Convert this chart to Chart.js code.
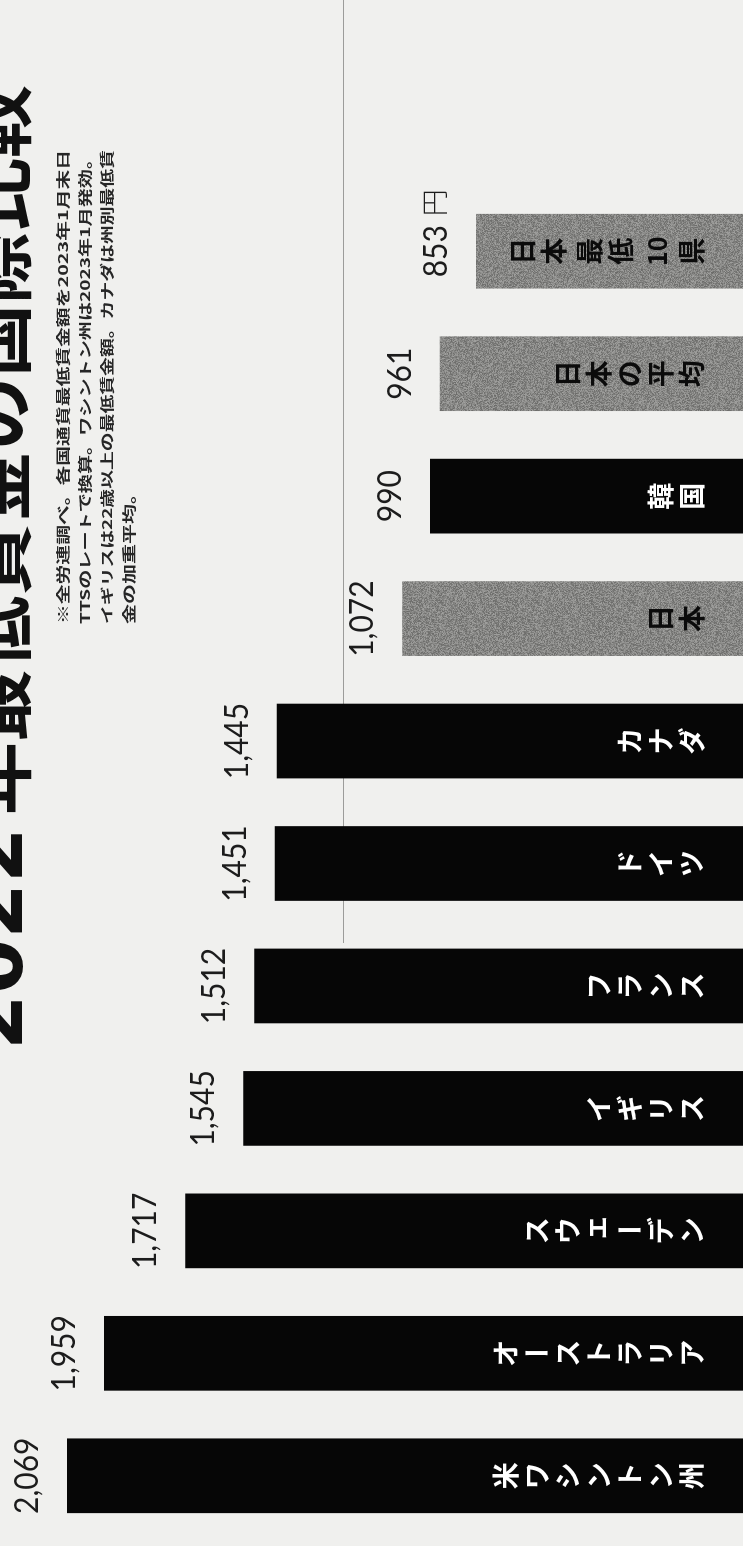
<!DOCTYPE html>
<html lang="ja">
<head>
<meta charset="utf-8">
<title>2022年最低賃金の国際比較</title>
<script src="https://cdn.jsdelivr.net/npm/chart.js@4"></script>
<style>
  html, body { margin: 0; padding: 0; width: 743px; height: 1546px; overflow: hidden; background: #f0f0ee; }
  /* the chart is laid out landscape and turned a quarter turn to stand in the tall page */
  #page {
    position: absolute; left: 0; top: 0;
    width: 1546px; height: 743px; overflow: hidden;
    transform-origin: 0 0;
    transform: translate(0, 1546px) rotate(-90deg);
    background: #f0f0ee;
  }
  #wrap { position: absolute; left: 0; top: 0; width: 1546px; height: 763px; }
</style>
</head>
<body>
<div id="page"><div id="wrap"><canvas id="chart"></canvas></div></div>
<script>
// ---- data ----
const categories = ['米ワシントン州', 'オーストラリア', 'スウェーデン', 'イギリス', 'フランス', 'ドイツ', 'カナダ', '日本', '韓国', '日本の平均', '日本 最低 10 県'];
const wages = [2069, 1959, 1717, 1545, 1512, 1451, 1445, 1072, 990, 961, 853];
const japanCategories = ['日本', '日本の平均', '日本 最低 10 県'];
const unitLabel = '円';
const titleYear = '2022';
const titleRest = '年最低賃金の国際比較';
const noteLines = [
  '※全労連調べ。各国通貨最低賃金額を2023年1月末日',
  'TTSのレートで換算。ワシントン州は2023年1月発効。',
  'イギリスは22歳以上の最低賃金額。カナダは州別最低賃',
  '金の加重平均。'
];

// ---- styles ----
const PAPER = '#f0f0ee';
const BLACK_BAR = '#060606';

// printed-screen grey: a small tile with a fixed hashed speckle
function screenTile() {
  const c = document.createElement('canvas');
  c.width = 96; c.height = 96;
  const g = c.getContext('2d');
  const img = g.createImageData(96, 96);
  for (let yy = 0; yy < 96; yy++) {
    for (let xx = 0; xx < 96; xx++) {
      let h = (xx * 374761393 + yy * 668265263) >>> 0;
      h = Math.imul(h ^ (h >>> 13), 1274126177) >>> 0;
      const r = ((h ^ (h >>> 16)) & 255) / 255;
      const v = Math.round(134 + (r - 0.5) * 54);
      const p = (yy * 96 + xx) * 4;
      img.data[p] = v; img.data[p + 1] = v; img.data[p + 2] = v - 2; img.data[p + 3] = 255;
    }
  }
  g.putImageData(img, 0, 0);
  return g.createPattern(c, 'repeat');
}

const SMALL_KANA = 'ァィゥェォッャュョヮぁぃぅぇぉっゃゅょ';

// split a name into vertical-writing units: single characters, digit runs, gaps
function verticalUnits(text) {
  const units = [];
  let i = 0;
  while (i < text.length) {
    const ch = text[i];
    if (ch === ' ') { units.push({ type: 'gap' }); i++; continue; }
    if (/[0-9]/.test(ch)) {
      let j = i;
      while (j < text.length && /[0-9]/.test(text[j])) j++;
      units.push({ type: 'digits', text: text.slice(i, j) });
      i = j; continue;
    }
    units.push({ type: 'char', text: ch });
    i++;
  }
  return units;
}

const paperPlugin = {
  id: 'paper',
  beforeDraw(chart) {
    const ctx = chart.ctx;
    ctx.save();
    ctx.fillStyle = PAPER;
    ctx.fillRect(0, 0, chart.width, chart.height);
    // column rule
    ctx.strokeStyle = '#9c9c9a';
    ctx.lineWidth = 1.2;
    ctx.beginPath();
    ctx.moveTo(603, 343.5);
    ctx.lineTo(chart.width, 343.5);
    ctx.stroke();

    // headline
    ctx.fillStyle = '#111111';
    ctx.textBaseline = 'alphabetic';
    ctx.textAlign = 'left';
    ctx.font = '700 80px "DejaVu Sans"';
    ctx.fillText(titleYear, 496, 22);
    ctx.font = '700 73px "Noto Sans CJK JP"';
    ctx.fillText(titleRest, 731, 24);

    // source note, set flat
    ctx.fillStyle = '#262626';
    ctx.font = '700 20px "Noto Sans CJK JP"';
    ctx.textBaseline = 'middle';
    noteLines.forEach((line, k) => {
      const w = ctx.measureText(line).width;
      const sx = k < noteLines.length - 1 ? 474 / w : 1;
      ctx.save();
      ctx.translate(922, 63 + k * 22);
      ctx.scale(sx, 0.66);
      ctx.fillText(line, 0, 0);
      ctx.restore();
    });
    ctx.restore();
  }
};

const labelPlugin = {
  id: 'barLabels',
  afterDatasetsDraw(chart) {
    const ctx = chart.ctx;
    const meta = chart.getDatasetMeta(0);
    ctx.save();
    meta.data.forEach((bar, i) => {
      const { x, y } = bar.getProps(['x', 'y'], true);
      const onGrey = japanCategories.includes(categories[i]);
      // value above the bar
      const txt = wages[i].toLocaleString('en-US');
      ctx.fillStyle = '#1c1c1c';
      ctx.font = '400 30px Lato';
      ctx.textAlign = 'center';
      ctx.textBaseline = 'alphabetic';
      ctx.save();
      ctx.translate(x, y - 29);
      ctx.scale(1, 1.12);
      ctx.fillText(txt, 0, 0);
      ctx.restore();
      if (i === wages.length - 1) {
        const w = ctx.measureText(txt).width;
        ctx.font = '300 27px "Noto Sans CJK JP"';
        ctx.textAlign = 'left';
        ctx.fillText(unitLabel, x + w / 2 + 9, y - 31);
      }

      // name, written vertically inside the bar
      const units = verticalUnits(categories[i]);
      const PITCH = 31, GAP = 5, DIG = 30;
      const lens = units.map(u => u.type === 'gap' ? GAP : (u.type === 'digits' ? DIG : PITCH));
      const total = lens.reduce((a, b) => a + b, 0);
      let pos = 707 - total;
      ctx.fillStyle = onGrey ? '#0b0b0b' : '#ffffff';
      ctx.textAlign = 'center';
      ctx.textBaseline = 'middle';
      units.forEach((u, k) => {
        const cy = pos + lens[k] / 2;
        if (u.type === 'char') {
          ctx.font = '700 27px "Noto Sans CJK JP"';
          if (u.text === 'ー') {
            ctx.save();
            ctx.translate(x, cy);
            ctx.rotate(Math.PI / 2);
            ctx.fillText(u.text, 0, 0);
            ctx.restore();
          } else if (SMALL_KANA.includes(u.text)) {
            ctx.fillText(u.text, x + 3, cy - 4);
          } else {
            ctx.fillText(u.text, x, cy);
          }
        } else if (u.type === 'digits') {
          ctx.font = '700 25px "Noto Sans CJK JP"';
          ctx.fillText(u.text, x, cy + 1);
        }
        pos += lens[k];
      });
    });
    ctx.restore();
  }
};

function draw() {
  const grey = screenTile();
  const barColors = categories.map(c => japanCategories.includes(c) ? grey : BLACK_BAR);
  new Chart(document.getElementById('chart'), {
    type: 'bar',
    data: {
      labels: categories,
      datasets: [{
        data: wages,
        backgroundColor: barColors,
        borderWidth: 0,
        barPercentage: 0.61,
        categoryPercentage: 1.0
      }]
    },
    options: {
      responsive: true,
      maintainAspectRatio: false,
      animation: false,
      devicePixelRatio: 1,
      layout: { padding: { left: 9, right: 190, top: 0, bottom: 0 } },
      scales: {
        x: { display: false, offset: true, grid: { display: false } },
        y: { display: false, min: 0, max: 2268 }
      },
      plugins: {
        legend: { display: false },
        tooltip: { enabled: false },
        title: { display: false }
      }
    },
    plugins: [paperPlugin, labelPlugin]
  });
}

Promise.all([
  document.fonts.load('700 27px "Noto Sans CJK JP"'),
  document.fonts.load('700 20px "Noto Sans CJK JP"'),
  document.fonts.load('300 27px "Noto Sans CJK JP"'),
  document.fonts.load('400 30px Lato'),
  document.fonts.load('700 80px "DejaVu Sans"')
]).then(draw, draw);
</script>
</body>
</html>
